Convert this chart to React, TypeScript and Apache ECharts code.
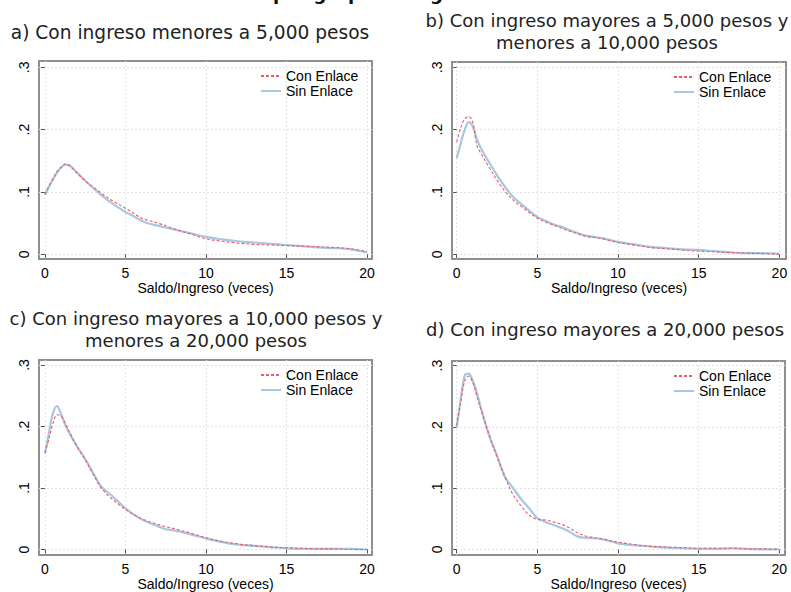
import React, { useEffect, useRef } from "react";
import * as echarts from "echarts";

// Saldo/Ingreso (veces)
const XS = [0, 0.25, 0.5, 0.75, 1, 1.25, 1.5, 2, 2.5, 3, 3.5, 4, 4.5, 5, 5.5, 6, 6.5, 7, 7.5, 8, 9, 10, 11, 12, 13, 14, 15, 16, 17, 18, 19, 20];

// a) menores a 5,000
const A_CON = [0.096, 0.110, 0.122, 0.133, 0.140, 0.145, 0.143, 0.130, 0.118, 0.108, 0.098, 0.089, 0.081, 0.074, 0.066, 0.058, 0.054, 0.050, 0.046, 0.041, 0.033, 0.025, 0.021, 0.018, 0.016, 0.015, 0.014, 0.013, 0.012, 0.011, 0.009, 0.004];
const A_SIN = [0.095, 0.108, 0.120, 0.131, 0.139, 0.144, 0.143, 0.131, 0.118, 0.106, 0.095, 0.085, 0.076, 0.068, 0.061, 0.054, 0.049, 0.046, 0.043, 0.040, 0.034, 0.028, 0.024, 0.021, 0.019, 0.017, 0.015, 0.013, 0.011, 0.010, 0.008, 0.003];
// b) 5,000 - 10,000
const B_CON = [0.180, 0.203, 0.217, 0.221, 0.212, 0.175, 0.162, 0.140, 0.119, 0.101, 0.087, 0.077, 0.067, 0.058, 0.052, 0.047, 0.042, 0.037, 0.033, 0.029, 0.025, 0.019, 0.015, 0.011, 0.009, 0.007, 0.005, 0.004, 0.003, 0.002, 0.001, 0.000];
const B_SIN = [0.154, 0.178, 0.200, 0.212, 0.205, 0.185, 0.170, 0.148, 0.127, 0.108, 0.092, 0.081, 0.070, 0.060, 0.054, 0.048, 0.044, 0.039, 0.034, 0.030, 0.026, 0.020, 0.016, 0.012, 0.010, 0.008, 0.007, 0.005, 0.003, 0.002, 0.002, 0.001];
// c) 10,000 - 20,000
const C_CON = [0.157, 0.180, 0.205, 0.219, 0.217, 0.206, 0.192, 0.167, 0.146, 0.122, 0.100, 0.086, 0.075, 0.065, 0.057, 0.050, 0.045, 0.041, 0.037, 0.034, 0.027, 0.019, 0.013, 0.009, 0.006, 0.004, 0.003, 0.002, 0.001, 0.001, 0.000, 0.000];
const C_SIN = [0.156, 0.190, 0.222, 0.233, 0.220, 0.203, 0.190, 0.167, 0.147, 0.124, 0.102, 0.091, 0.079, 0.067, 0.057, 0.049, 0.043, 0.038, 0.033, 0.031, 0.025, 0.018, 0.012, 0.008, 0.006, 0.004, 0.002, 0.001, 0.001, 0.001, 0.001, 0.000];
// d) mayores a 20,000
const D_CON = [0.202, 0.240, 0.275, 0.283, 0.272, 0.250, 0.229, 0.188, 0.151, 0.118, 0.089, 0.071, 0.056, 0.049, 0.048, 0.045, 0.041, 0.035, 0.027, 0.022, 0.017, 0.012, 0.008, 0.005, 0.004, 0.003, 0.002, 0.002, 0.002, 0.001, 0.001, 0.000];
const D_SIN = [0.199, 0.245, 0.284, 0.287, 0.275, 0.256, 0.231, 0.187, 0.153, 0.118, 0.100, 0.082, 0.067, 0.051, 0.045, 0.040, 0.035, 0.029, 0.021, 0.019, 0.017, 0.010, 0.007, 0.005, 0.003, 0.002, 0.001, 0.001, 0.002, 0.001, 0.000, 0.000];

const X_TICKS = [0, 5, 10, 15, 20];
const Y_TICKS = [0, 0.1, 0.2, 0.3];
const SERIES_NAMES = ["Con Enlace", "Sin Enlace"];
const X_NAME = "Saldo/Ingreso (veces)";

const PANEL_TITLES: string[][] = [
  ["a) Con ingreso menores a 5,000 pesos"],
  ["b) Con ingreso mayores a 5,000 pesos y", "menores a 10,000 pesos"],
  ["c) Con ingreso mayores a 10,000 pesos y", "menores a 20,000 pesos"],
  ["d) Con ingreso mayores a 20,000 pesos"],
];
const MAIN_TITLE = "por grupo de ingreso";

const PANEL_DATA = [
  [A_CON, A_SIN],
  [B_CON, B_SIN],
  [C_CON, C_SIN],
  [D_CON, D_SIN],
];

const LAYOUT = [
  { left: 39, top: 61, width: 333, height: 198, xMin: -0.37, xMax: 20.31, yMin: -0.0075, yMax: 0.3101, titleX: 190, titleY: [32], titleSize: 18.6 },
  { left: 452, top: 62, width: 334, height: 197, xMin: -0.29, xMax: 20.41, yMin: -0.0075, yMax: 0.3085, titleX: 607, titleY: [20, 42], titleSize: 18 },
  { left: 39, top: 360, width: 333, height: 198, xMin: -0.37, xMax: 20.31, yMin: -0.0091, yMax: 0.308, titleX: 196, titleY: [318, 340], titleSize: 18 },
  { left: 452, top: 361, width: 333, height: 197, xMin: -0.29, xMax: 20.35, yMin: -0.0092, yMax: 0.3076, titleX: 605, titleY: [329], titleSize: 18 },
];

const RED = "#ef5b66";
const BLUE = "#a9c7e3";
const FRAME = "#8f8f8f";
const AXIS_FONT = "Liberation Sans";
const TITLE_FONT = "DejaVu Sans";

export default function App() {
  const ref = useRef<HTMLDivElement>(null);

  useEffect(() => {
    if (!ref.current) return;
    const chart = echarts.init(ref.current, undefined, { renderer: "svg" });

    const grids: any[] = [];
    const xAxes: any[] = [];
    const yAxes: any[] = [];
    const series: any[] = [];
    const legends: any[] = [];
    const graphics: any[] = [];

    LAYOUT.forEach((L, i) => {
      grids.push({
        left: L.left,
        top: L.top,
        width: L.width,
        height: L.height,
        show: true,
        borderColor: FRAME,
        borderWidth: 2,
        backgroundColor: "#fff",
      });
      xAxes.push({
        type: "value",
        gridIndex: i,
        min: L.xMin,
        max: L.xMax,
        name: X_NAME,
        nameLocation: "middle",
        nameGap: 20,
        nameTextStyle: { fontFamily: AXIS_FONT, fontSize: 14, color: "#000" },
        axisLine: { show: false },
        axisTick: { show: true, length: 4, customValues: X_TICKS, lineStyle: { color: "#555" } },
        axisLabel: {
          customValues: X_TICKS,
          margin: 7,
          fontFamily: AXIS_FONT,
          fontSize: 14,
          color: "#000",
        },
        splitLine: { show: true, lineStyle: { color: "#e4e4e4", type: [2, 2], width: 1 } },
      });
      yAxes.push({
        type: "value",
        gridIndex: i,
        min: L.yMin,
        max: L.yMax,
        axisLine: { show: false },
        axisTick: { show: true, length: 4, customValues: Y_TICKS, lineStyle: { color: "#555" } },
        axisLabel: {
          customValues: Y_TICKS,
          rotate: 90,
          margin: 8,
          fontFamily: AXIS_FONT,
          fontSize: 14,
          color: "#000",
          formatter: (v: number) => (Math.abs(v) < 1e-9 ? "0" : "." + Math.round(v * 10)),
        },
        splitLine: { show: true, lineStyle: { color: "#e4e4e4", type: [2, 2], width: 1 } },
      });
      const [con, sin] = PANEL_DATA[i];
      series.push({
        type: "line",
        name: SERIES_NAMES[1],
        xAxisIndex: i,
        yAxisIndex: i,
        data: XS.map((x, k) => [x, sin[k]]),
        symbol: "none",
        smooth: 0.35,
        lineStyle: { color: BLUE, width: 2.2 },
        itemStyle: { color: BLUE },
        z: 2,
      });
      series.push({
        type: "line",
        name: SERIES_NAMES[0],
        xAxisIndex: i,
        yAxisIndex: i,
        data: XS.map((x, k) => [x, con[k]]),
        symbol: "none",
        smooth: 0.35,
        lineStyle: { color: RED, width: 1.1, type: [3, 2] },
        itemStyle: { color: RED },
        z: 3,
      });
      legends.push({
        data: SERIES_NAMES,
        orient: "vertical",
        left: L.left + 221,
        top: L.top + 8,
        itemWidth: 20,
        itemHeight: 10,
        itemGap: 1,
        padding: 0,
        selectedMode: false,
        itemStyle: { opacity: 0 },
        textStyle: { fontFamily: AXIS_FONT, fontSize: 14, color: "#000" },
      });
      PANEL_TITLES[i].forEach((t, k) => {
        graphics.push({
          type: "text",
          x: L.titleX,
          y: L.titleY[k],
          style: {
            text: t,
            fill: "#222",
            font: `${L.titleSize}px "${TITLE_FONT}"`,
            textAlign: "center",
            textVerticalAlign: "middle",
          },
        });
      });
    });

    graphics.push({
      type: "text",
      x: 380,
      y: 2,
      style: {
        text: MAIN_TITLE,
        fill: "#111",
        font: `bold 18px "${TITLE_FONT}"`,
        textAlign: "center",
        textVerticalAlign: "bottom",
      },
    });

    chart.setOption({
      animation: false,
      backgroundColor: "#fff",
      grid: grids,
      xAxis: xAxes,
      yAxis: yAxes,
      series,
      legend: legends,
      graphic: graphics,
    });

    return () => chart.dispose();
  }, []);

  return (
    <div
      ref={ref}
      style={{ position: "fixed", left: 0, top: 0, width: 791, height: 592, background: "#fff" }}
    />
  );
}
